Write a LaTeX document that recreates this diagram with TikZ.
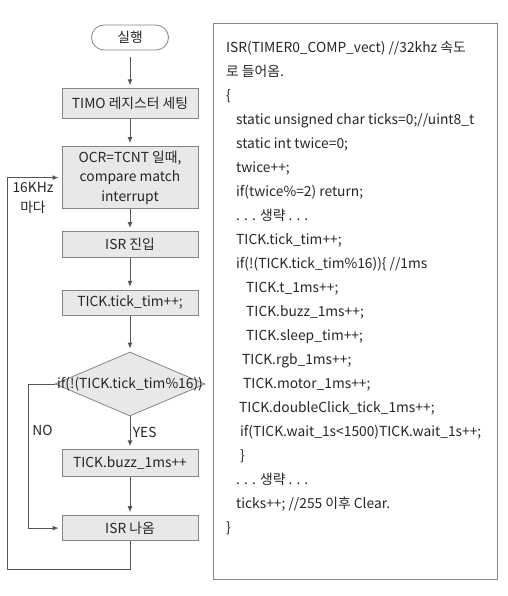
\documentclass[tikz,border=0pt]{standalone}
\usepackage{fontspec}
\setmainfont{Noto Sans CJK KR}
\usetikzlibrary{shapes.geometric, arrows.meta, positioning}

\definecolor{boxfill}{HTML}{E8E8E8}
\definecolor{boxline}{HTML}{858585}
\definecolor{arrowgray}{HTML}{555555}

\begin{document}
\begin{tikzpicture}[
    x=1pt, y=1pt,
    font=\fontsize{13.8}{15}\selectfont,
    text=black!85,
    terminal/.style={rectangle, rounded corners=12.5pt, draw=boxline, line width=0.8pt, fill=white, minimum width=77pt, minimum height=25pt, inner sep=0pt},
    process/.style={rectangle, draw=boxline, line width=0.8pt, fill=boxfill, minimum width=136pt, inner sep=0pt, align=center},
    decision/.style={diamond, draw=boxline, line width=0.8pt, fill=boxfill, minimum width=150pt, minimum height=64pt, inner sep=0pt},
    arrow/.style={-{Latex[length=6pt, width=5pt]}, draw=arrowgray, line width=1pt, shorten >=3pt}
]
    \useasboundingbox (0,0) rectangle (507,-596);

    % Flowchart
    \node[terminal] (start) at (130,-37.5) {실행};
    \node[process, minimum height=30pt, below=38pt of start] (timo) {TIMO 레지스터 세팅};
    \node[process, minimum height=62pt, below=27pt of timo, font=\fontsize{13.8}{19.5}\selectfont] (ocr) {OCR=TCNT 일때,\\compare match\\interrupt};
    \node[process, minimum height=26pt, below=22pt of ocr] (enter) {ISR 진입};
    \node[process, minimum height=25pt, below=32pt of enter] (tick) {TICK.tick\_tim++;};
    \node[decision, below=36pt of tick, label=center:{if(!(TICK.tick\_tim\%16))}] (cond) {};
    \node[process, minimum height=27pt, below=33pt of cond] (buzz) {TICK.buzz\_1ms++};
    \node[process, minimum height=25pt, below=38pt of buzz] (exit) {ISR 나옴};
    \node[left=8pt of ocr.west, yshift=-20pt, align=center, inner sep=0pt, font=\fontsize{13.8}{20}\selectfont] (freq) {16KHz\\마다};

    % Arrows
    \draw[arrow, shorten <=7pt] (start) -- (timo);
    \draw[arrow] (timo) -- (ocr);
    \draw[arrow] (ocr) -- (enter);
    \draw[arrow] (enter) -- (tick);
    \draw[arrow] (tick) -- (cond);
    \draw[arrow] (cond) -- node[right, xshift=-1pt] {YES} (buzz);
    \draw[arrow] (buzz) -- (exit);
    \draw[arrow] (cond.west) -- ++(-26,0) |- node[pos=0.16, right] {NO} (exit.west);
    \draw[arrow] (exit.south) -- ++(0,-28) -| ([xshift=-54pt]ocr.west) -- (ocr.west);

    % Code listing
    \node[draw=boxline, line width=1pt, minimum width=284pt, minimum height=556pt, anchor=north west] (codebox) at (213,-23) {};
    \node[anchor=north west, align=left, inner sep=0pt, font=\fontsize{13.8}{24}\selectfont] (code) at (226,-41) {%
ISR(TIMER0\_COMP\_vect) //32khz 속도\\
로 들어옴.\\
\{\\
\hspace*{10pt}static unsigned char ticks=0;//uint8\_t\\
\hspace*{10pt}static int twice=0;\\
\hspace*{10pt}twice++;\\
\hspace*{10pt}if(twice\%=2) return;\\
\hspace*{10pt}. . . 생략 . . .\\
\hspace*{10pt}TICK.tick\_tim++;\\
\hspace*{10pt}if(!(TICK.tick\_tim\%16))\{ //1ms\\
\hspace*{20pt}TICK.t\_1ms++;\\
\hspace*{20pt}TICK.buzz\_1ms++;\\
\hspace*{20pt}TICK.sleep\_tim++;\\
\hspace*{16pt}TICK.rgb\_1ms++;\\
\hspace*{17pt}TICK.motor\_1ms++;\\
\hspace*{13pt}TICK.doubleClick\_tick\_1ms++;\\
\hspace*{14pt}if(TICK.wait\_1s<1500)TICK.wait\_1s++;\\
\hspace*{14pt}\}\\
\hspace*{10pt}. . . 생략 . . .\\
\hspace*{10pt}ticks++; //255 이후 Clear.\\
\}};

\end{tikzpicture}
\end{document}
